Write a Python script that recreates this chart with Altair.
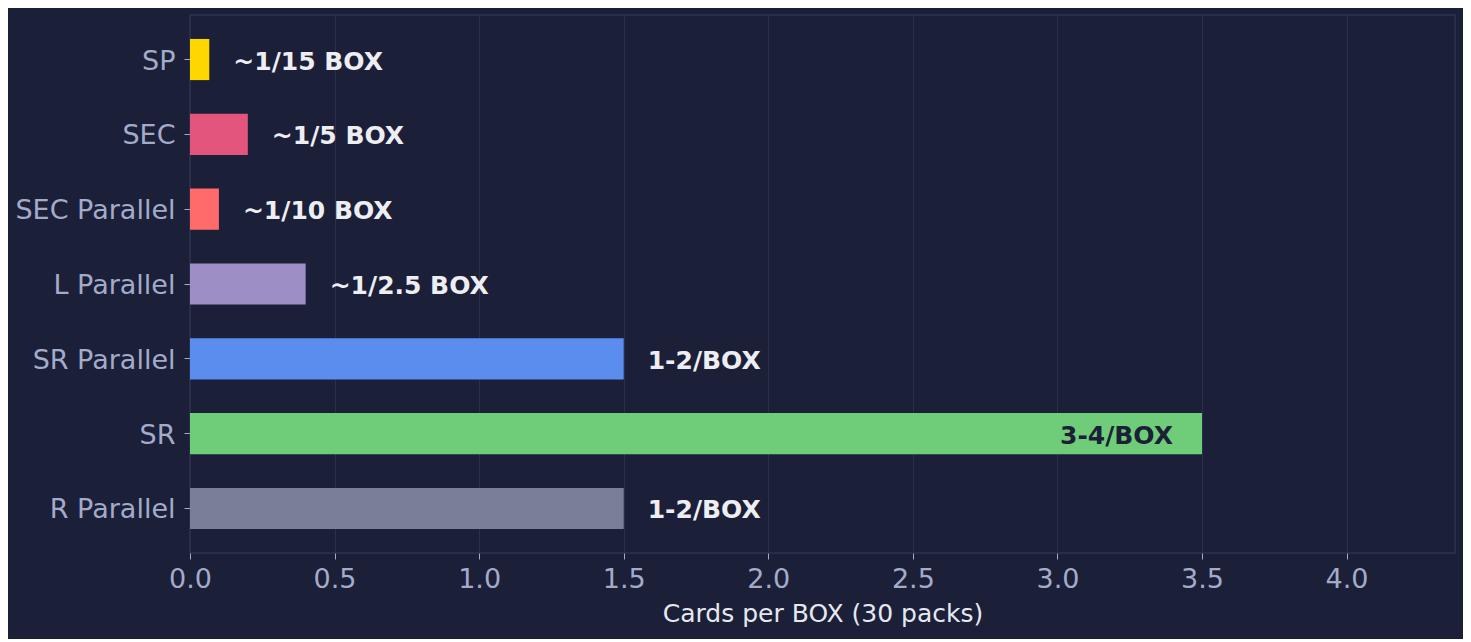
import altair as alt
import pandas as pd

categories = ["SP", "SEC", "SEC Parallel", "L Parallel", "SR Parallel", "SR", "R Parallel"]
values = [0.0667, 0.2, 0.1, 0.4, 1.5, 3.5, 1.5]
labels = ["~1/15 BOX", "~1/5 BOX", "~1/10 BOX", "~1/2.5 BOX", "1-2/BOX", "3-4/BOX", "1-2/BOX"]
colors = ["#FFD700", "#E4557D", "#FF6B6B", "#9D8EC5", "#5B8DEE", "#6FCD7A", "#7A7F99"]
x_ticks = [0.0, 0.5, 1.0, 1.5, 2.0, 2.5, 3.0, 3.5, 4.0]

df = pd.DataFrame({"cat": categories, "value": values, "label": labels, "color": colors})

BG = "#1B1F38"
FONT = "DejaVu Sans"

y_enc = alt.Y("cat:N", sort=categories, title=None,
              scale=alt.Scale(paddingInner=0.45, paddingOuter=0.32),
              axis=alt.Axis(labelColor="#A3ABCB", labelFontSize=27, labelFont=FONT,
                            tickColor="#A3ABCB", tickSize=6, labelPadding=9,
                            labelOffset=2, domain=False, grid=False))
x_scale = alt.Scale(domain=[0, 4.375], nice=False, zero=True)

bars = alt.Chart(df).mark_bar().encode(
    x=alt.X("value:Q", scale=x_scale, title="Cards per BOX (30 packs)",
            axis=alt.Axis(values=x_ticks, format=".1f", labelColor="#A3ABCB",
                          labelFontSize=27, labelFont=FONT, tickColor="#A3ABCB",
                          tickSize=6, labelPadding=7, labelFlush=False, domain=False,
                          grid=True, gridColor="#2A2F4B", gridWidth=1,
                          titleColor="#E6E8F0", titleFontSize=25, titleFont=FONT,
                          titleFontWeight="normal", titlePadding=9)),
    y=y_enc,
    color=alt.Color("color:N", scale=None),
)

outside = alt.Chart(df).transform_filter("datum.value < 3").mark_text(
    align="left", baseline="middle", dx=24, dy=2, fontSize=25, font=FONT,
    fontWeight="bold", color="#EEEEF2"
).encode(x=alt.X("value:Q", scale=x_scale), y=alt.Y("cat:N", sort=categories), text="label:N")

inside = alt.Chart(df).transform_filter("datum.value >= 3").mark_text(
    align="right", baseline="middle", dx=-29, dy=2, fontSize=25, font=FONT,
    fontWeight="bold", color="#1B2036"
).encode(x=alt.X("value:Q", scale=x_scale), y=alt.Y("cat:N", sort=categories), text="label:N")

chart = alt.layer(bars, outside, inside).properties(
    width=1265, height=538, background=BG,
    padding={"left": 182, "top": 7, "right": 8, "bottom": 86},
    autosize=alt.AutoSizeParams(type="none"),
).configure_view(stroke="#2E3352", strokeWidth=1.5, fill=BG)

chart.save("out.html", embed_options={"renderer": "svg", "actions": False})
